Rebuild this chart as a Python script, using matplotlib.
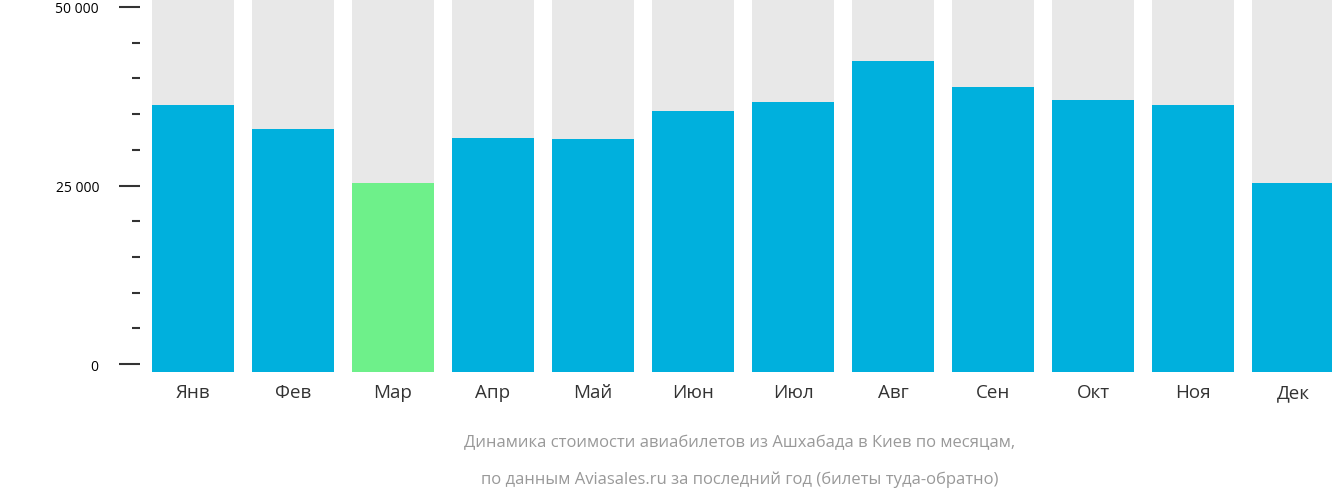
import matplotlib.pyplot as plt
from matplotlib.ticker import MultipleLocator

months = ['Янв', 'Фев', 'Мар', 'Апр', 'Май', 'Июн', 'Июл', 'Авг', 'Сен', 'Окт', 'Ноя', 'Дек']
prices = [36300, 32900, 25350, 31650, 31500, 35450, 36700, 42450, 38800, 37000, 36300, 25350]
cheapest = 'Мар'
tick_vals = [0, 25000, 50000]
tick_labels = ['0 ₽', '25 000 ₽', '50 000 ₽']

plt.rcParams['font.family'] = 'Open Sans'
fig = plt.figure(figsize=(13.32, 5.02), dpi=100)
ax = fig.add_axes([150/1332, 1 - 373/502, 1182/1332, 373/502])

ymin, ymax = -1100, 51100
x = range(len(months))
colors = ['#6ef08a' if m == cheapest else '#00b0dd' for m in months]
ax.bar(x, [ymax - ymin] * len(months), bottom=ymin, width=0.82, color='#e8e8e8')
ax.bar(x, [p - ymin for p in prices], bottom=ymin, width=0.82, color=colors)

ax.set_xlim(-0.43, 11.39)
ax.set_ylim(ymin, ymax)
ax.set_xticks(list(x))
ax.set_xticklabels(months, fontsize=13.5, color='#333333')
ax.tick_params(axis='x', length=0, pad=8)
ax.set_yticks(tick_vals)
ax.set_yticklabels(tick_labels, fontsize=13.5, color='#333333')
ax.yaxis.set_minor_locator(MultipleLocator(5000))
ax.tick_params(axis='y', which='major', length=15, width=1.5, color='#333333', pad=6)
ax.tick_params(axis='y', which='minor', length=6, width=1.5, color='#333333')
ax.spines['left'].set_position(('outward', 7))
for s in ax.spines.values():
    s.set_visible(False)

fig.text(0.555, 1 - 443/502, 'Динамика стоимости авиабилетов из Ашхабада в Киев по месяцам,',
         ha='center', va='center', fontsize=12, color='#999999')
fig.text(0.555, 1 - 480/502, 'по данным Aviasales.ru за последний год (билеты туда-обратно)',
         ha='center', va='center', fontsize=12, color='#999999')

fig.savefig('out.png', dpi=100)
